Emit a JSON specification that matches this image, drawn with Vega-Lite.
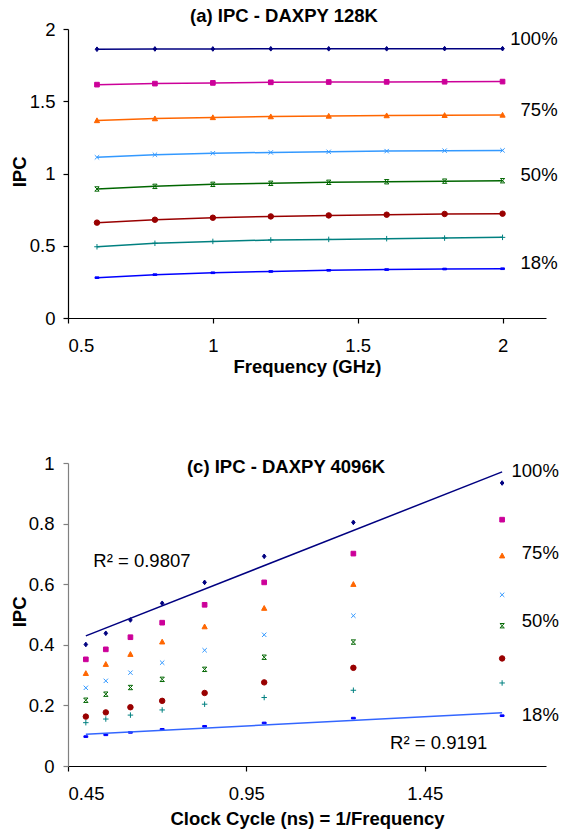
{
  "$schema": "https://vega.github.io/schema/vega-lite/v6.json",
  "autosize": {"type": "none"},
  "padding": {"left": 68, "top": 29, "right": 493, "bottom": 805},
  "background": "white",
  "bounds": "flush",
  "spacing": 145,
  "config": {
    "font": "Liberation Sans",
    "view": {"stroke": null},
    "axis": {
      "grid": false,
      "domainColor": "#000000",
      "tickColor": "#000000",
      "labelColor": "#000000",
      "titleColor": "#000000",
      "labelFont": "Liberation Sans",
      "labelFontSize": 18.5,
      "titleFont": "Liberation Sans",
      "titleFontSize": 18.5,
      "titleFontWeight": "bold",
      "tickSize": 5,
      "domainWidth": 1.2,
      "tickWidth": 1.2
    },
    "title": {"font": "Liberation Sans", "fontSize": 18.5, "fontWeight": "bold", "color": "#000000"},
    "text": {"font": "Liberation Sans", "fontSize": 18.5, "color": "#000000"}
  },
  "datasets": {
    "ipc128": [
      {"series": "s1", "freq": 0.6, "ipc": 1.86}, {"series": "s1", "freq": 0.8, "ipc": 1.862}, {"series": "s1", "freq": 1.0, "ipc": 1.862}, {"series": "s1", "freq": 1.2, "ipc": 1.863}, {"series": "s1", "freq": 1.4, "ipc": 1.863}, {"series": "s1", "freq": 1.6, "ipc": 1.863}, {"series": "s1", "freq": 1.8, "ipc": 1.864}, {"series": "s1", "freq": 2.0, "ipc": 1.864},
      {"series": "s2", "freq": 0.6, "ipc": 1.615}, {"series": "s2", "freq": 0.8, "ipc": 1.622}, {"series": "s2", "freq": 1.0, "ipc": 1.627}, {"series": "s2", "freq": 1.2, "ipc": 1.631}, {"series": "s2", "freq": 1.4, "ipc": 1.633}, {"series": "s2", "freq": 1.6, "ipc": 1.634}, {"series": "s2", "freq": 1.8, "ipc": 1.635}, {"series": "s2", "freq": 2.0, "ipc": 1.636},
      {"series": "s3", "freq": 0.6, "ipc": 1.367}, {"series": "s3", "freq": 0.8, "ipc": 1.38}, {"series": "s3", "freq": 1.0, "ipc": 1.388}, {"series": "s3", "freq": 1.2, "ipc": 1.394}, {"series": "s3", "freq": 1.4, "ipc": 1.398}, {"series": "s3", "freq": 1.6, "ipc": 1.401}, {"series": "s3", "freq": 1.8, "ipc": 1.403}, {"series": "s3", "freq": 2.0, "ipc": 1.405},
      {"series": "s4", "freq": 0.6, "ipc": 1.112}, {"series": "s4", "freq": 0.8, "ipc": 1.13}, {"series": "s4", "freq": 1.0, "ipc": 1.14}, {"series": "s4", "freq": 1.2, "ipc": 1.146}, {"series": "s4", "freq": 1.4, "ipc": 1.15}, {"series": "s4", "freq": 1.6, "ipc": 1.155}, {"series": "s4", "freq": 1.8, "ipc": 1.158}, {"series": "s4", "freq": 2.0, "ipc": 1.16},
      {"series": "s5", "freq": 0.6, "ipc": 0.893}, {"series": "s5", "freq": 0.8, "ipc": 0.911}, {"series": "s5", "freq": 1.0, "ipc": 0.925}, {"series": "s5", "freq": 1.2, "ipc": 0.932}, {"series": "s5", "freq": 1.4, "ipc": 0.939}, {"series": "s5", "freq": 1.6, "ipc": 0.943}, {"series": "s5", "freq": 1.8, "ipc": 0.947}, {"series": "s5", "freq": 2.0, "ipc": 0.95},
      {"series": "s6", "freq": 0.6, "ipc": 0.66}, {"series": "s6", "freq": 0.8, "ipc": 0.68}, {"series": "s6", "freq": 1.0, "ipc": 0.694}, {"series": "s6", "freq": 1.2, "ipc": 0.703}, {"series": "s6", "freq": 1.4, "ipc": 0.71}, {"series": "s6", "freq": 1.6, "ipc": 0.715}, {"series": "s6", "freq": 1.8, "ipc": 0.72}, {"series": "s6", "freq": 2.0, "ipc": 0.722},
      {"series": "s7", "freq": 0.6, "ipc": 0.493}, {"series": "s7", "freq": 0.8, "ipc": 0.517}, {"series": "s7", "freq": 1.0, "ipc": 0.53}, {"series": "s7", "freq": 1.2, "ipc": 0.54}, {"series": "s7", "freq": 1.4, "ipc": 0.544}, {"series": "s7", "freq": 1.6, "ipc": 0.549}, {"series": "s7", "freq": 1.8, "ipc": 0.553}, {"series": "s7", "freq": 2.0, "ipc": 0.558},
      {"series": "s8", "freq": 0.6, "ipc": 0.279}, {"series": "s8", "freq": 0.8, "ipc": 0.3}, {"series": "s8", "freq": 1.0, "ipc": 0.313}, {"series": "s8", "freq": 1.2, "ipc": 0.322}, {"series": "s8", "freq": 1.4, "ipc": 0.33}, {"series": "s8", "freq": 1.6, "ipc": 0.335}, {"series": "s8", "freq": 1.8, "ipc": 0.339}, {"series": "s8", "freq": 2.0, "ipc": 0.341}
    ],
    "ipc4096": [
      {"series": "s1", "cycle": 0.5, "ipc": 0.401}, {"series": "s1", "cycle": 0.556, "ipc": 0.438}, {"series": "s1", "cycle": 0.625, "ipc": 0.482}, {"series": "s1", "cycle": 0.714, "ipc": 0.537}, {"series": "s1", "cycle": 0.833, "ipc": 0.606}, {"series": "s1", "cycle": 1.0, "ipc": 0.692}, {"series": "s1", "cycle": 1.25, "ipc": 0.804}, {"series": "s1", "cycle": 1.667, "ipc": 0.934},
      {"series": "s2", "cycle": 0.5, "ipc": 0.352}, {"series": "s2", "cycle": 0.556, "ipc": 0.385}, {"series": "s2", "cycle": 0.625, "ipc": 0.425}, {"series": "s2", "cycle": 0.714, "ipc": 0.473}, {"series": "s2", "cycle": 0.833, "ipc": 0.532}, {"series": "s2", "cycle": 1.0, "ipc": 0.606}, {"series": "s2", "cycle": 1.25, "ipc": 0.701}, {"series": "s2", "cycle": 1.667, "ipc": 0.813},
      {"series": "s3", "cycle": 0.5, "ipc": 0.306}, {"series": "s3", "cycle": 0.556, "ipc": 0.336}, {"series": "s3", "cycle": 0.625, "ipc": 0.369}, {"series": "s3", "cycle": 0.714, "ipc": 0.41}, {"series": "s3", "cycle": 0.833, "ipc": 0.46}, {"series": "s3", "cycle": 1.0, "ipc": 0.521}, {"series": "s3", "cycle": 1.25, "ipc": 0.6}, {"series": "s3", "cycle": 1.667, "ipc": 0.694},
      {"series": "s4", "cycle": 0.5, "ipc": 0.258}, {"series": "s4", "cycle": 0.556, "ipc": 0.281}, {"series": "s4", "cycle": 0.625, "ipc": 0.308}, {"series": "s4", "cycle": 0.714, "ipc": 0.341}, {"series": "s4", "cycle": 0.833, "ipc": 0.382}, {"series": "s4", "cycle": 1.0, "ipc": 0.433}, {"series": "s4", "cycle": 1.25, "ipc": 0.496}, {"series": "s4", "cycle": 1.667, "ipc": 0.565},
      {"series": "s5", "cycle": 0.5, "ipc": 0.217}, {"series": "s5", "cycle": 0.556, "ipc": 0.237}, {"series": "s5", "cycle": 0.625, "ipc": 0.259}, {"series": "s5", "cycle": 0.714, "ipc": 0.286}, {"series": "s5", "cycle": 0.833, "ipc": 0.319}, {"series": "s5", "cycle": 1.0, "ipc": 0.359}, {"series": "s5", "cycle": 1.25, "ipc": 0.409}, {"series": "s5", "cycle": 1.667, "ipc": 0.463},
      {"series": "s6", "cycle": 0.5, "ipc": 0.163}, {"series": "s6", "cycle": 0.556, "ipc": 0.177}, {"series": "s6", "cycle": 0.625, "ipc": 0.194}, {"series": "s6", "cycle": 0.714, "ipc": 0.215}, {"series": "s6", "cycle": 0.833, "ipc": 0.241}, {"series": "s6", "cycle": 1.0, "ipc": 0.276}, {"series": "s6", "cycle": 1.25, "ipc": 0.324}, {"series": "s6", "cycle": 1.667, "ipc": 0.355},
      {"series": "s7", "cycle": 0.5, "ipc": 0.143}, {"series": "s7", "cycle": 0.556, "ipc": 0.155}, {"series": "s7", "cycle": 0.625, "ipc": 0.168}, {"series": "s7", "cycle": 0.714, "ipc": 0.185}, {"series": "s7", "cycle": 0.833, "ipc": 0.204}, {"series": "s7", "cycle": 1.0, "ipc": 0.226}, {"series": "s7", "cycle": 1.25, "ipc": 0.25}, {"series": "s7", "cycle": 1.667, "ipc": 0.274},
      {"series": "s8", "cycle": 0.5, "ipc": 0.097}, {"series": "s8", "cycle": 0.556, "ipc": 0.103}, {"series": "s8", "cycle": 0.625, "ipc": 0.111}, {"series": "s8", "cycle": 0.714, "ipc": 0.121}, {"series": "s8", "cycle": 0.833, "ipc": 0.131}, {"series": "s8", "cycle": 1.0, "ipc": 0.142}, {"series": "s8", "cycle": 1.25, "ipc": 0.158}, {"series": "s8", "cycle": 1.667, "ipc": 0.166}
    ],
    "labels128": [
      {"label": "100%", "freq": 2.19, "ipc": 1.933},
      {"label": "75%", "freq": 2.19, "ipc": 1.441},
      {"label": "50%", "freq": 2.19, "ipc": 0.992},
      {"label": "18%", "freq": 2.19, "ipc": 0.383}
    ],
    "labels4096": [
      {"label": "100%", "cycle": 1.826, "ipc": 0.972},
      {"label": "75%", "cycle": 1.826, "ipc": 0.703},
      {"label": "50%", "cycle": 1.826, "ipc": 0.477},
      {"label": "18%", "cycle": 1.826, "ipc": 0.168}
    ],
    "r2": [
      {"label": "R² = 0.9807", "cycle": 0.521, "ipc": 0.675},
      {"label": "R² = 0.9191", "cycle": 1.353, "ipc": 0.075}
    ]
  },
  "vconcat": [
    {
      "width": 478,
      "height": 289,
      "title": {"text": "(a) IPC - DAXPY 128K", "anchor": "middle", "frame": "group", "dx": -23, "offset": -24.5, "baseline": "bottom"},
      "layer": [
        {
          "data": {"name": "ipc128"},
          "mark": {"type": "line", "strokeWidth": 1.5},
          "encoding": {
            "x": {"field": "freq", "type": "quantitative", "scale": {"domain": [0.5, 2.15], "nice": false, "zero": false},
                  "axis": {"values": [0.5, 1, 1.5, 2], "format": ".3~g", "title": "Frequency (GHz)", "labelPadding": 13.5, "titleY": 48.4, "titleBaseline": "middle"}},
            "y": {"field": "ipc", "type": "quantitative", "scale": {"domain": [0, 2], "nice": false},
                  "axis": {"values": [0, 0.5, 1, 1.5, 2], "format": ".3~g", "title": "IPC", "labelPadding": 8, "titleX": -49, "titleY": 142.4, "titleAngle": -90, "titleAlign": "center", "titleBaseline": "middle"}},
            "color": {"field": "series", "type": "nominal", "legend": null,
                      "scale": {"domain": ["s1", "s2", "s3", "s4", "s5", "s6", "s7", "s8"], "range": ["#000080", "#CC0099", "#FF6600", "#3399FF", "#006600", "#990000", "#008080", "#0000FF"]}}
          }
        },
        {
          "data": {"name": "ipc128"},
          "mark": {"type": "point", "filled": true, "size": 30, "strokeWidth": 1, "opacity": 1},
          "encoding": {
            "x": {"field": "freq", "type": "quantitative"},
            "y": {"field": "ipc", "type": "quantitative"},
            "color": {"field": "series", "type": "nominal", "legend": null},
            "stroke": {"field": "series", "type": "nominal", "legend": null,
                       "scale": {"domain": ["s1", "s2", "s3", "s4", "s5", "s6", "s7", "s8"], "range": ["#000080", "#CC0099", "#FF6600", "#3399FF", "#006600", "#990000", "#008080", "#0000FF"]}},
            "shape": {"field": "series", "type": "nominal", "legend": null,
                      "scale": {"domain": ["s1", "s2", "s3", "s4", "s5", "s6", "s7", "s8"],
                                "range": ["M0,-0.85L0.65,0L0,0.85L-0.65,0Z", "M-0.85,-0.85H0.85V0.85H-0.85Z", "M0,-0.95L0.95,0.8H-0.95Z", "M-0.8,-0.8L0.8,0.8M-0.8,0.8L0.8,-0.8", "M-0.8,-0.8L0.8,0.8M-0.8,0.8L0.8,-0.8M-0.8,-0.8H0.8M-0.8,0.8H0.8", "circle", "M-1,0H1M0,-1V1", "M-0.7,-0.3H0.7V0.3H-0.7Z"]}}
          }
        },
        {
          "data": {"name": "labels128"},
          "mark": {"type": "text", "align": "right", "baseline": "middle", "fontSize": 18.5},
          "encoding": {
            "x": {"field": "freq", "type": "quantitative"},
            "y": {"field": "ipc", "type": "quantitative"},
            "text": {"field": "label", "type": "nominal"}
          }
        }
      ]
    },
    {
      "width": 478,
      "height": 303,
      "title": {"text": "(c) IPC - DAXPY 4096K", "anchor": "middle", "frame": "group", "dx": -21, "offset": -41.5, "baseline": "bottom"},
      "layer": [
        {
          "data": {"name": "ipc4096"},
          "mark": {"type": "point", "filled": true, "size": 30, "strokeWidth": 1, "opacity": 1},
          "encoding": {
            "x": {"field": "cycle", "type": "quantitative", "scale": {"domain": [0.45, 1.79], "nice": false, "zero": false},
                  "axis": {"values": [0.45, 0.95, 1.45], "format": ".3~g", "title": "Clock Cycle (ns) = 1/Frequency", "labelPadding": 13, "titleY": 52.3, "titleBaseline": "middle"}},
            "y": {"field": "ipc", "type": "quantitative", "scale": {"domain": [0, 1], "nice": false},
                  "axis": {"values": [0, 0.2, 0.4, 0.6, 0.8, 1], "format": ".3~g", "title": "IPC", "labelPadding": 9, "domainColor": "#808080", "tickColor": "#808080", "titleX": -49, "titleY": 148.4, "titleAngle": -90, "titleAlign": "center", "titleBaseline": "middle"}},
            "color": {"field": "series", "type": "nominal", "legend": null,
                      "scale": {"domain": ["s1", "s2", "s3", "s4", "s5", "s6", "s7", "s8"], "range": ["#000080", "#CC0099", "#FF6600", "#3399FF", "#006600", "#990000", "#008080", "#0000FF"]}},
            "stroke": {"field": "series", "type": "nominal", "legend": null,
                       "scale": {"domain": ["s1", "s2", "s3", "s4", "s5", "s6", "s7", "s8"], "range": ["#000080", "#CC0099", "#FF6600", "#3399FF", "#006600", "#990000", "#008080", "#0000FF"]}},
            "shape": {"field": "series", "type": "nominal", "legend": null,
                      "scale": {"domain": ["s1", "s2", "s3", "s4", "s5", "s6", "s7", "s8"],
                                "range": ["M0,-0.85L0.65,0L0,0.85L-0.65,0Z", "M-0.85,-0.85H0.85V0.85H-0.85Z", "M0,-0.95L0.95,0.8H-0.95Z", "M-0.8,-0.8L0.8,0.8M-0.8,0.8L0.8,-0.8", "M-0.8,-0.8L0.8,0.8M-0.8,0.8L0.8,-0.8M-0.8,-0.8H0.8M-0.8,0.8H0.8", "circle", "M-1,0H1M0,-1V1", "M-0.7,-0.3H0.7V0.3H-0.7Z"]}}
          }
        },
        {
          "data": {"name": "ipc4096"},
          "transform": [
            {"filter": "datum.series === 's1'"},
            {"regression": "ipc", "on": "cycle"}
          ],
          "mark": {"type": "line", "strokeWidth": 1.5, "color": "#000080"},
          "encoding": {
            "x": {"field": "cycle", "type": "quantitative"},
            "y": {"field": "ipc", "type": "quantitative"}
          }
        },
        {
          "data": {"name": "ipc4096"},
          "transform": [
            {"filter": "datum.series === 's8'"},
            {"regression": "ipc", "on": "cycle"}
          ],
          "mark": {"type": "line", "strokeWidth": 1.5, "color": "#3366FF"},
          "encoding": {
            "x": {"field": "cycle", "type": "quantitative"},
            "y": {"field": "ipc", "type": "quantitative"}
          }
        },
        {
          "data": {"name": "labels4096"},
          "mark": {"type": "text", "align": "right", "baseline": "middle", "fontSize": 18.5},
          "encoding": {
            "x": {"field": "cycle", "type": "quantitative"},
            "y": {"field": "ipc", "type": "quantitative"},
            "text": {"field": "label", "type": "nominal"}
          }
        },
        {
          "data": {"name": "r2"},
          "mark": {"type": "text", "align": "left", "baseline": "middle", "fontSize": 18.5},
          "encoding": {
            "x": {"field": "cycle", "type": "quantitative"},
            "y": {"field": "ipc", "type": "quantitative"},
            "text": {"field": "label", "type": "nominal"}
          }
        }
      ]
    }
  ]
}
